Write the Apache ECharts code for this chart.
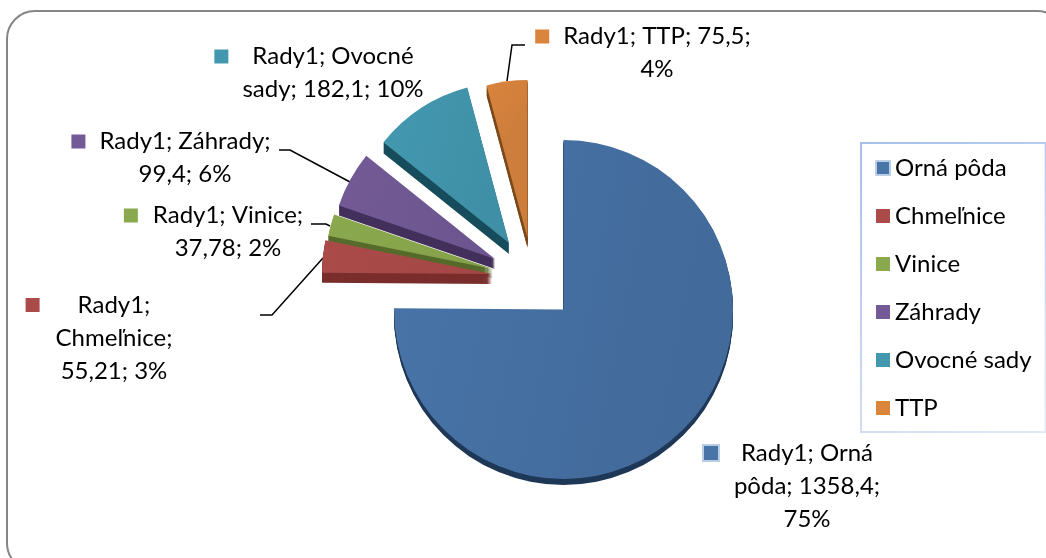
<!DOCTYPE html>
<html>
<head>
<meta charset="utf-8">
<style>
  html, body { margin: 0; padding: 0; background: #fff; }
  #chart { width: 1046px; height: 558px; }
</style>
<script src="https://cdn.jsdelivr.net/npm/echarts@6/dist/echarts.min.js"></script>
</head>
<body>
<div id="chart"></div>
<script>
var seriesName = 'Rady1';
var categories = ['Orná pôda', 'Chmeľnice', 'Vinice', 'Záhrady', 'Ovocné sady', 'TTP'];
var values = [1358.4, 55.21, 37.78, 99.4, 182.1, 75.5];
var percents = [75, 3, 2, 6, 10, 4];
var colors = ['#4874A8', '#AA4B4A', '#8AA84D', '#735A96', '#4398B0', '#DA843C'];
var faceEnds = ['#426A9A', '#A34644', '#84A149', '#6C558E', '#3F90A6', '#CE7E3C'];
var sideColors = ['#1F3857', '#7A2E2C', '#566B2B', '#43305C', '#174C5C', '#7C4A1C'];

// how the text of each data label wraps in the picture
var labelLines = [
  ['Rady1; Orná', 'pôda; 1358,4;', '75%'],
  ['Rady1;', 'Chmeľnice;', '55,21; 3%'],
  ['Rady1; Vinice;', '37,78; 2%'],
  ['Rady1; Záhrady;', '99,4; 6%'],
  ['Rady1; Ovocné', 'sady; 182,1; 10%'],
  ['Rady1; TTP; 75,5;', '4%']
];

// placement of the exploded slices and their labels
var slices = [
  { c: [563.5, 309.5], r: 169.5, depth: 6, label: [807, 486], gap: 23 },
  { c: [492, 274], r: 170, depth: 10, label: [114, 338], gap: 38, line: [[323, 258], [272, 315], [260, 315]] },
  { c: [493, 269], r: 168, depth: 9, label: [228, 232], gap: 15, line: [[330, 226], [326, 224], [311, 224]] },
  { c: [495, 259], r: 165, depth: 10, label: [185, 158], gap: 14, line: [[350, 182], [290, 150], [279, 150]] },
  { c: [509, 243], r: 161, depth: 11, label: [333, 73], gap: 24 },
  { c: [527.5, 238], r: 158, depth: 10, label: [657, 53], gap: 14, line: [[507, 81], [512, 45], [525, 45]] }
];
// back to front, so nearer slices cover the sides of the ones behind
var drawOrder = [5, 4, 3, 2, 1, 0];

var myChart = echarts.init(document.getElementById('chart'));

function sliceData(k, color, withLabel) {
  return categories.map(function (name, i) {
    return {
      name: name,
      value: values[i],
      itemStyle: { color: i === k ? color : 'transparent' },
      label: { show: withLabel && i === k },
      labelLine: { show: withLabel && i === k && !!slices[k].line, lineStyle: { color: '#000', width: 1.5 } }
    };
  });
}

function labelText(k) {
  return labelLines[k].map(function (t, n) {
    return n === 0 ? '{m|}{g|}' + t + '{e|}' : t;
  }).join('\n');
}

function pieBase(k) {
  return {
    type: 'pie',
    silent: true,
    startAngle: 90,
    clockwise: true,
    radius: [0, slices[k].r],
    avoidLabelOverlap: false,
    emphasis: { disabled: true },
    animation: false
  };
}

var series = [];
drawOrder.forEach(function (k) {
  // dark copies stacked downwards give the thickness of the slice
  for (var d = slices[k].depth; d >= 1; d--) {
    series.push(Object.assign(pieBase(k), {
      center: [slices[k].c[0], slices[k].c[1] + d],
      label: { show: false },
      labelLine: { show: false },
      data: sliceData(k, sideColors[k], false)
    }));
  }
  series.push(Object.assign(pieBase(k), {
    center: slices[k].c,
    data: sliceData(k, {
      type: 'linear', x: 0, y: 0, x2: 1, y2: 0.2,
      colorStops: [{ offset: 0, color: colors[k] }, { offset: 1, color: faceEnds[k] }]
    }, true),
    label: {
      position: 'outside',
      fontFamily: 'Lato',
      fontSize: 24,
      lineHeight: 33,
      color: '#000',
      formatter: function () { return labelText(k); },
      rich: {
        m: { width: 14, height: 14, backgroundColor: colors[k], borderColor: k === 0 ? '#B9CDE5' : 'transparent', borderWidth: k === 0 ? 2 : 0 },
        g: { width: slices[k].gap },
        e: { width: slices[k].gap + 14 }
      }
    },
    labelLine: { show: true },
    labelLayout: function () {
      var out = {
        x: slices[k].label[0],
        y: slices[k].label[1],
        align: 'center',
        verticalAlign: 'middle'
      };
      if (slices[k].line) out.labelLinePoints = slices[k].line;
      return out;
    }
  }));
});

var option = {
  backgroundColor: '#fff',
  graphic: [{
    type: 'rect',
    silent: true,
    z: -1,
    shape: { x: 7, y: 11, width: 1058, height: 560, r: 28 },
    style: { fill: 'none', stroke: '#868686', lineWidth: 2 }
  }],
  legend: {
    orient: 'vertical',
    left: 861,
    top: 143,
    selectedMode: false,
    itemWidth: 14,
    itemHeight: 14,
    itemGap: 24,
    padding: [13, 14, 12, 14],
    backgroundColor: '#fff',
    borderColor: {
      type: 'linear', x: 0, y: 0, x2: 1, y2: 1,
      colorStops: [{ offset: 0, color: '#A6BFEA' }, { offset: 1, color: '#E2EAF7' }]
    },
    borderWidth: 2,
    textStyle: { fontFamily: 'Lato', fontSize: 24, color: '#000' },
    data: categories.map(function (name, i) {
      return { name: name, icon: 'rect', itemStyle: { color: colors[i], borderColor: i === 0 ? '#B9CDE5' : colors[i], borderWidth: i === 0 ? 2 : 0 } };
    })
  },
  series: series
};

myChart.setOption(option);
window.addEventListener('resize', myChart.resize);
</script>
</body>
</html>
